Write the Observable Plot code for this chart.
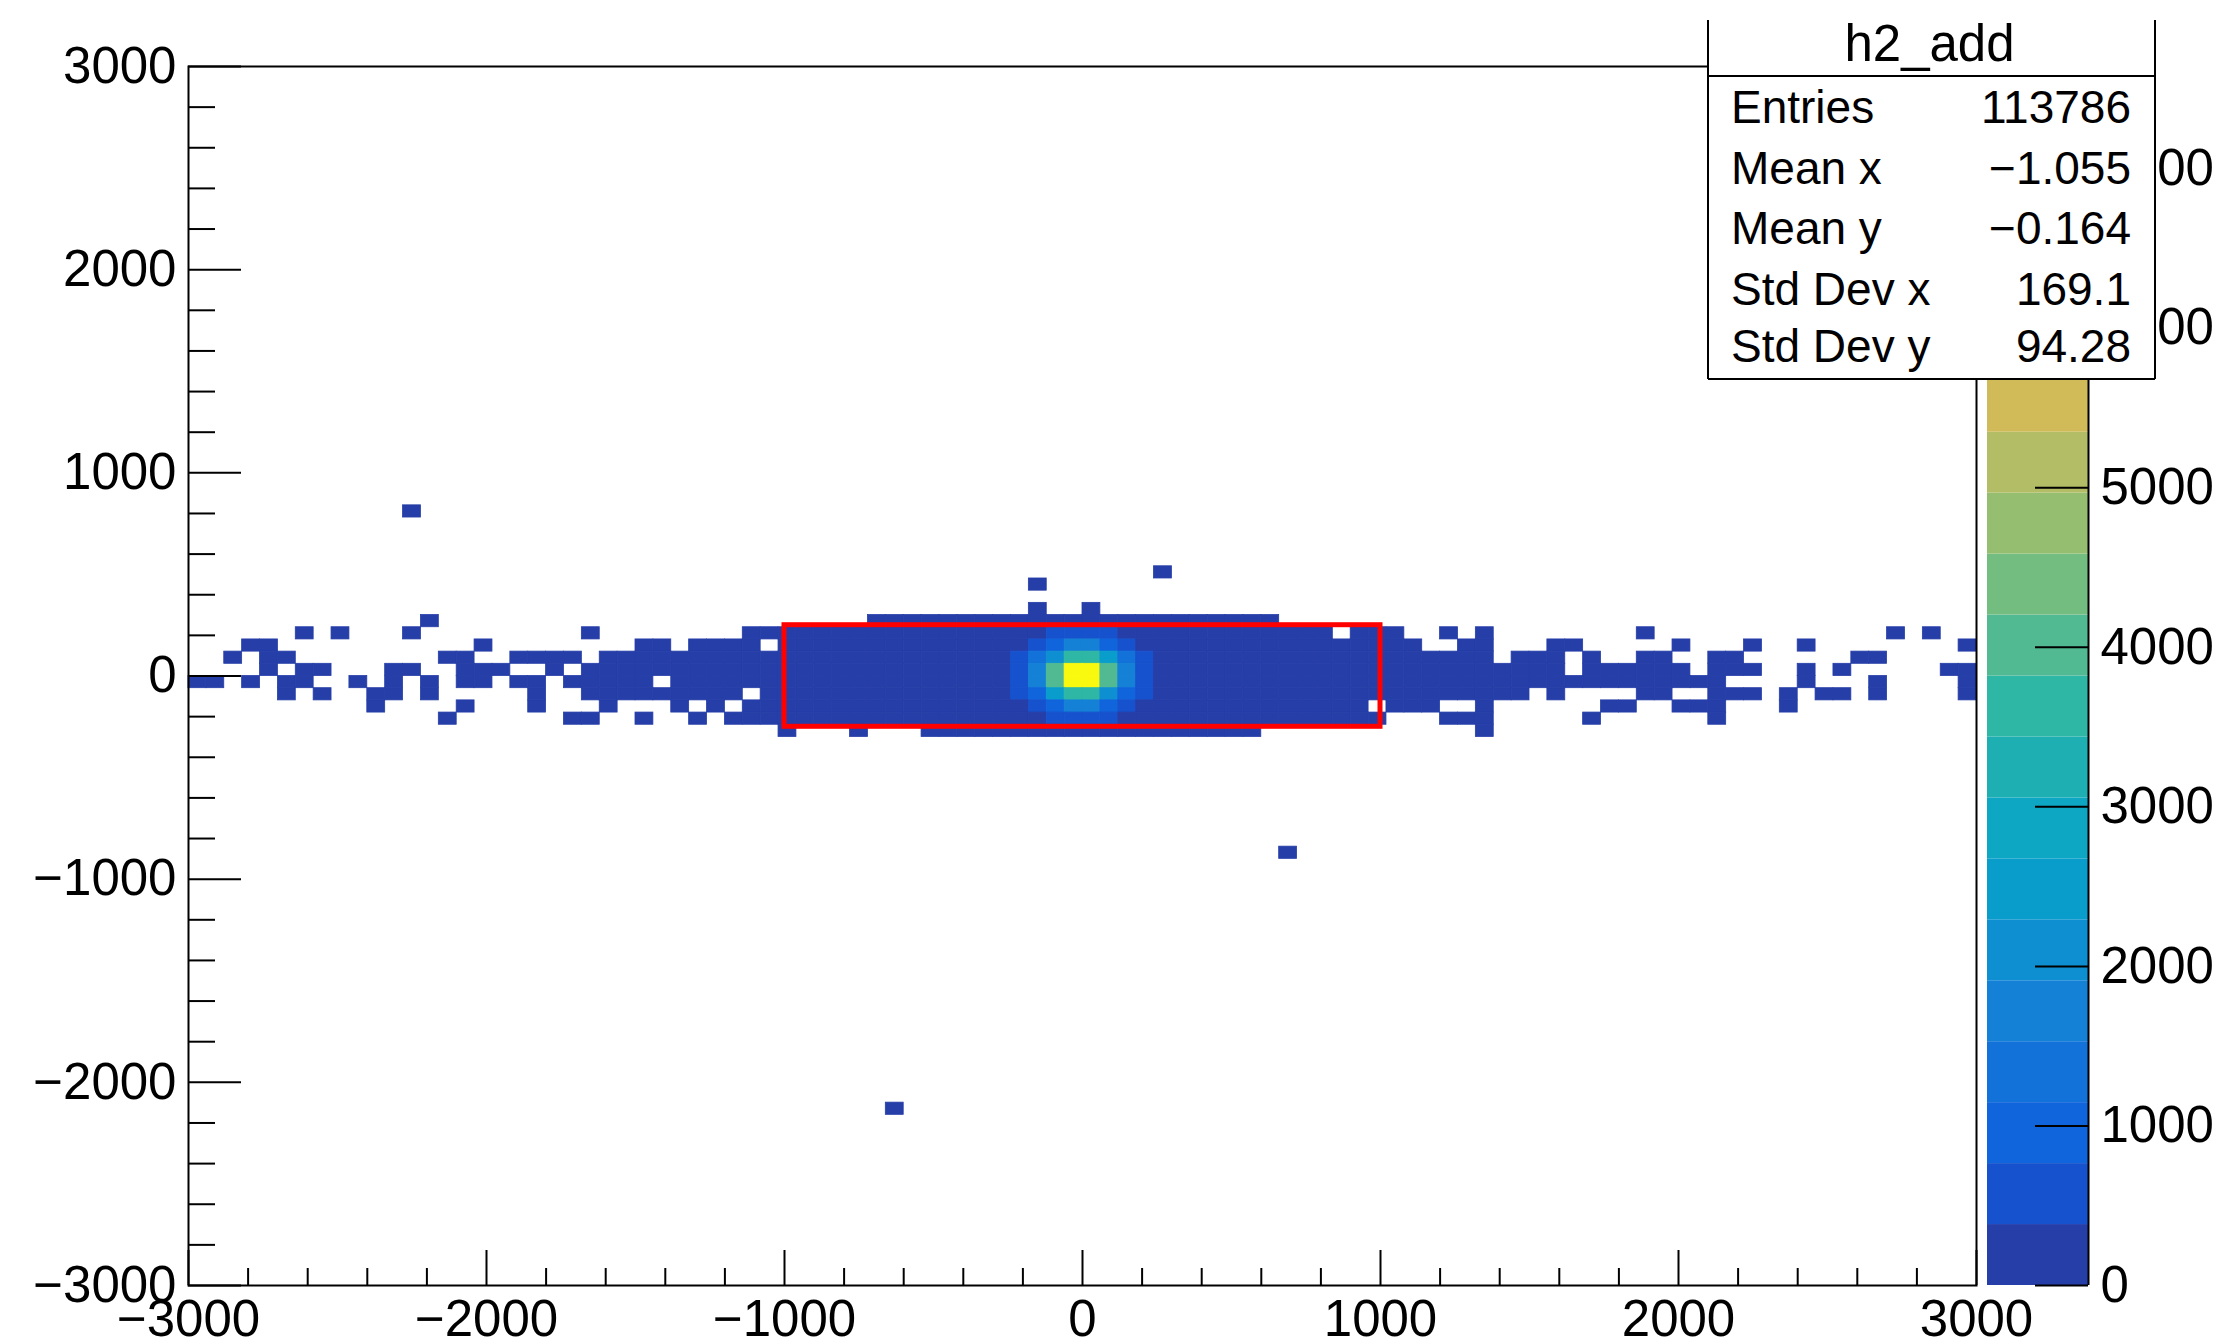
<!DOCTYPE html>
<html>
<head>
<meta charset="utf-8">
<script src="https://cdn.jsdelivr.net/npm/d3@7"></script>
<script src="https://cdn.jsdelivr.net/npm/@observablehq/plot@0.6"></script>
<style>
html, body { margin: 0; padding: 0; background: #fff; }
#chart { position: relative; width: 2214px; height: 1340px; overflow: hidden; background: #fff;
  font-family: "Liberation Sans", Arial, Helvetica, sans-serif; }
#chart > svg { position: absolute; left: 0; top: 0; }
</style>
</head>
<body>
<div id="chart"></div>
<script>
// ---------------- data ----------------
const histTitle = "h2_add";
const statLabels = ["Entries", "Mean x", "Mean y", "Std Dev x", "Std Dev y"];
const statValues = ["113786", "\u22121.055", "\u22120.164", "169.1", "94.28"];

const xDomain = [-3000, 3000];
const yDomain = [-3000, 3000];
const binW = 60, binH = 60;

const xMajor = [-3000, -2000, -1000, 0, 1000, 2000, 3000];
const xMinor = [-2800, -2600, -2400, -2200, -1800, -1600, -1400, -1200, -800, -600, -400, -200,
                200, 400, 600, 800, 1200, 1400, 1600, 1800, 2200, 2400, 2600, 2800];
const yMajor = [-3000, -2000, -1000, 0, 1000, 2000, 3000];
const yMinor = [-2800, -2600, -2400, -2200, -1800, -1600, -1400, -1200, -800, -600, -400, -200,
                200, 400, 600, 800, 1200, 1400, 1600, 1800, 2200, 2400, 2600, 2800];

const zMax = 7640;          // top of the colour palette
const nContours = 20;
const zTicks = [0, 1000, 2000, 3000, 4000, 5000, 6000, 7000];
const birdColors = ["#263ea8", "#1652cd", "#1064dc", "#1272d9", "#1481d6", "#0e8fd1", "#099dcc",
  "#0da7c3", "#1eafb3", "#2eb7a4", "#52ba92", "#74bd81", "#95be71", "#b3bd65", "#d1bb59",
  "#e2c04b", "#f4c63b", "#fdd22b", "#fbe61d", "#f9f90f"];

// selection box drawn in red
const boxX = [-1000, 1000];
const boxY = [-250, 250];

// filled bins, row by row: lower y edge of the row, then runs [first x edge, last x edge, count]
const rowY = [780, 480, 420, 300, 240, 180, 120, 60, 0, -60, -120, -180, -240, -300, -900, -2160];
const rowRuns = [
  [[-2280, -2280, 1]],
  [[240, 240, 1]],
  [[-180, -180, 1]],
  [[-180, -180, 1], [0, 0, 1]],
  [[-2220, -2220, 1], [-720, 600, 3]],
  [[-2640, -2640, 1], [-2520, -2520, 1], [-2280, -2280, 1], [-1680, -1680, 1], [-1140, 780, 20],
   [900, 1020, 4], [1200, 1200, 1], [1320, 1320, 1], [1860, 1860, 1], [2700, 2700, 1], [2820, 2820, 1]],
  [[-2820, -2760, 1], [-2040, -2040, 1], [-1500, -1440, 1], [-1320, -1140, 2], [-1020, 1080, 60],
   [1260, 1320, 2], [1560, 1620, 1], [1980, 1980, 1], [2220, 2220, 1], [2400, 2400, 1], [2940, 2940, 1]],
  [[-2880, -2880, 1], [-2760, -2700, 1], [-2160, -2100, 1], [-1920, -1740, 2], [-1620, 1320, 150],
   [1440, 1560, 2], [1680, 1680, 1], [1860, 1920, 1], [2100, 2160, 1], [2580, 2640, 1]],
  [[-2760, -2760, 1], [-2640, -2580, 1], [-2340, -2280, 1], [-2100, -1980, 2], [-1800, -1800, 2],
   [-1680, 1560, 250], [1680, 1980, 3], [2100, 2220, 2], [2400, 2400, 1], [2520, 2520, 1], [2880, 2940, 1]],
  [[-3000, -2940, 1], [-2820, -2820, 1], [-2700, -2640, 1], [-2460, -2460, 1], [-2340, -2340, 1],
   [-2220, -2220, 1], [-2100, -2040, 2], [-1920, -1860, 2], [-1740, -1500, 3], [-1380, 2100, 250],
   [2400, 2400, 1], [2640, 2640, 1], [2940, 2940, 1]],
  [[-2700, -2700, 1], [-2580, -2580, 1], [-2400, -2340, 1], [-2220, -2220, 1], [-1860, -1860, 1],
   [-1680, -1200, 3], [-1080, 1440, 150], [1560, 1560, 1], [1860, 1920, 1], [2100, 2220, 1],
   [2340, 2340, 1], [2460, 2520, 1], [2640, 2640, 1], [2940, 2940, 1]],
  [[-2400, -2400, 1], [-2100, -2100, 1], [-1860, -1860, 1], [-1620, -1620, 1], [-1380, -1380, 1],
   [-1260, -1260, 1], [-1140, 900, 60], [1020, 1140, 2], [1320, 1320, 1], [1740, 1800, 1],
   [1980, 2100, 1], [2340, 2340, 1]],
  [[-2160, -2160, 1], [-1740, -1680, 1], [-1500, -1500, 1], [-1320, -1320, 1], [-1200, 960, 20],
   [1200, 1320, 1], [1680, 1680, 1], [2100, 2100, 1]],
  [[-1020, -1020, 1], [-780, -780, 1], [-540, 540, 3], [1320, 1320, 1]],
  [[660, 660, 1]],
  [[-660, -660, 1]]
];

// core of the peak: bin contents
const coreX = [-240, -180, -120, -60, 0, 60, 120, 180];
const coreY = [180, 120, 60, 0, -60, -120, -180, -240];
const coreCounts = [
  [250, 330, 560, 620, 620, 560, 330, 250],
  [340, 600, 1000, 1750, 1750, 1000, 600, 340],
  [620, 1400, 2150, 3600, 3650, 2500, 1350, 600],
  [700, 1750, 4000, 7640, 7520, 3950, 1720, 680],
  [690, 1730, 3980, 7480, 7600, 4050, 1700, 700],
  [600, 1000, 2450, 3550, 3600, 2150, 980, 590],
  [330, 590, 950, 1700, 1720, 960, 600, 330],
  [250, 320, 570, 610, 620, 560, 310, 240]
];

// ---------------- build tables ----------------
const cellMap = new Map();
rowY.forEach((y, r) => {
  rowRuns[r].forEach(([a, b, v]) => {
    for (let x = a; x <= b; x += binW) cellMap.set(x + "," + y, {x, y, v});
  });
});
coreY.forEach((y, r) => coreX.forEach((x, c) => cellMap.set(x + "," + y, {x, y, v: coreCounts[r][c]})));
const cells = Array.from(cellMap.values());

const zThresholds = d3.range(1, nContours).map(k => k * zMax / nContours);
const bands = d3.range(nContours).map(k => ({z1: k * zMax / nContours, z2: (k + 1) * zMax / nContours, c: birdColors[k]}));

// ---------------- layout ----------------
const W = 2214, H = 1340;
const frameL = 188, frameR = 1976, frameT = 66, frameB = 1285;
const frameW = frameR - frameL, frameH = frameB - frameT;
const palL = 1987, palR = 2088;
const fontFamily = "'Liberation Sans', Arial, Helvetica, sans-serif";
const fmt = d3.format("d");

const chart = document.getElementById("chart");

const main = Plot.plot({
  width: W, height: H,
  marginLeft: frameL, marginRight: W - frameR, marginTop: frameT, marginBottom: H - frameB,
  style: {background: "transparent", fontFamily, color: "black", overflow: "visible"},
  x: {domain: xDomain},
  y: {domain: yDomain},
  color: {type: "threshold", domain: zThresholds, range: birdColors},
  marks: [
    Plot.rect(cells, {x1: "x", x2: d => d.x + binW, y1: "y", y2: d => d.y + binH, fill: "v", stroke: "v", strokeWidth: 0.8}),
    Plot.rect([{x1: boxX[0], x2: boxX[1], y1: boxY[0], y2: boxY[1]}],
      {x1: "x1", x2: "x2", y1: "y1", y2: "y2", fill: "none", stroke: "#ff0000", strokeWidth: 5}),
    Plot.tickX(xMajor, {x: d => d, insetTop: frameH - 35, stroke: "black", strokeWidth: 2}),
    Plot.tickX(xMinor, {x: d => d, insetTop: frameH - 17, stroke: "black", strokeWidth: 2}),
    Plot.tickY(yMajor, {y: d => d, insetRight: frameW - 53, stroke: "black", strokeWidth: 2}),
    Plot.tickY(yMinor, {y: d => d, insetRight: frameW - 27, stroke: "black", strokeWidth: 2}),
    Plot.axisX({ticks: xMajor, tickSize: 0, tickPadding: 14, fontSize: 51, tickFormat: fmt, label: null}),
    Plot.axisY({ticks: yMajor, tickSize: 0, tickPadding: 12, fontSize: 51, tickFormat: fmt, label: null}),
    Plot.frame({stroke: "black", strokeWidth: 2})
  ]
});
chart.appendChild(main);

const pal = Plot.plot({
  width: W, height: H,
  marginLeft: palL, marginRight: W - palR, marginTop: frameT, marginBottom: H - frameB,
  style: {background: "transparent", fontFamily, color: "black", overflow: "visible"},
  x: {domain: [0, 1], axis: null},
  y: {domain: [0, zMax], axis: null},
  color: {type: "identity"},
  marks: [
    Plot.rect(bands, {x1: () => 0, x2: () => 1, y1: "z1", y2: "z2", fill: "c"}),
    Plot.ruleX([1], {stroke: "black", strokeWidth: 2}),
    Plot.tickY(zTicks, {y: d => d, insetLeft: (palR - palL) - 53, stroke: "black", strokeWidth: 2}),
    Plot.axisY({anchor: "right", ticks: zTicks, tickSize: 0, tickPadding: 12, fontSize: 51, tickFormat: fmt, label: null})
  ]
});
chart.appendChild(pal);

// ---------------- statistics box ----------------
const box = {l: 1708, r: 2155, t: 20, sep: 76, b: 379};
const svg = d3.select(chart).append("svg")
  .attr("width", W).attr("height", H)
  .style("font-family", fontFamily);
svg.append("rect").attr("x", box.l).attr("y", box.t).attr("width", box.r - box.l).attr("height", box.b - box.t)
  .attr("fill", "#fff");
const lines = [[box.l, box.t, box.l, box.b], [box.r, box.t, box.r, box.b], [box.l, box.b, box.r, box.b], [box.l, box.sep, box.r, box.sep]];
svg.selectAll("line").data(lines).join("line")
  .attr("x1", d => d[0]).attr("y1", d => d[1]).attr("x2", d => d[2]).attr("y2", d => d[3])
  .attr("stroke", "#000").attr("stroke-width", 2);
svg.append("text").attr("x", (box.l + box.r) / 2 - 2).attr("y", 61).attr("text-anchor", "middle")
  .attr("font-size", 51).text(histTitle);
const rowBase = [123, 184, 244, 305, 362];
svg.selectAll("text.lab").data(statLabels).join("text").attr("class", "lab")
  .attr("x", 1731).attr("y", (d, i) => rowBase[i]).attr("font-size", 46).text(d => d);
svg.selectAll("text.val").data(statValues).join("text").attr("class", "val")
  .attr("x", 2131).attr("y", (d, i) => rowBase[i]).attr("text-anchor", "end").attr("font-size", 46).text(d => d);
</script>
</body>
</html>
